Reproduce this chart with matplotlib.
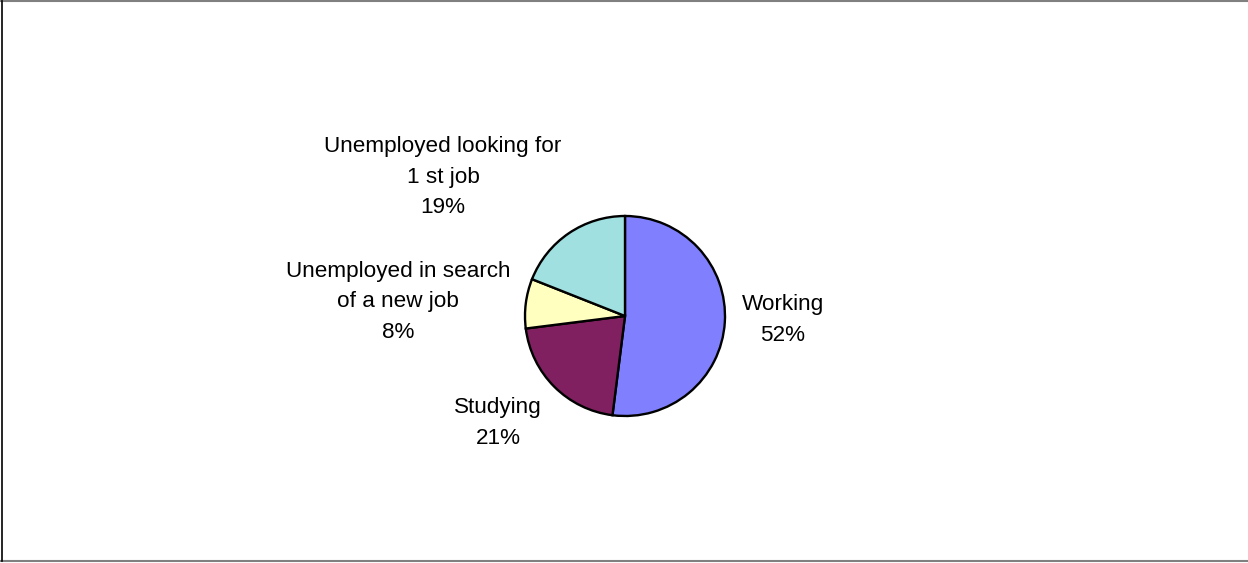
"""Pie chart of respondents' current activity status."""

import matplotlib

matplotlib.use("Agg")

import matplotlib.pyplot as plt
from matplotlib.lines import Line2D

labels = [
    "Working",
    "Studying",
    "Unemployed in search\nof a new job",
    "Unemployed looking for\n1 st job",
]
shares = [52, 21, 8, 19]
colors = ["#8080FF", "#802060", "#FFFFC0", "#A0E0E0"]

# label anchors in pie-radius units (centre of each text block)
label_pos = [(1.58, -0.04), (-1.27, -1.07), (-2.27, 0.14), (-1.82, 1.39)]

plt.rcParams["font.family"] = ["Liberation Sans", "DejaVu Sans"]

fig = plt.figure(figsize=(12.48, 5.63), dpi=100)
ax = fig.add_axes([0, 0, 1, 1])

ax.pie(
    shares,
    colors=colors,
    startangle=90,
    counterclock=False,
    radius=1.0,
    wedgeprops={"edgecolor": "black", "linewidth": 1.7},
    frame=True,
)
ax.set_xlim(-6.25, 6.23)
ax.set_ylim(-2.47, 3.16)
ax.set_aspect("auto")
ax.axis("off")

for text, val, (x, y) in zip(labels, shares, label_pos, strict=True):
    ax.text(
        x,
        y,
        f"{text}\n{val}%",
        ha="center",
        va="center",
        fontsize=16.2,
        linespacing=1.62,
        color="black",
    )

# outer frame: grey top/bottom rules, black left edge
fig.add_artist(Line2D([0.0, 1.0], [0.998, 0.998], transform=fig.transFigure, color="#808080", lw=1.5))
fig.add_artist(Line2D([0.0, 1.0], [0.003, 0.003], transform=fig.transFigure, color="#808080", lw=1.5))
fig.add_artist(Line2D([0.0015, 0.0015], [0.003, 0.998], transform=fig.transFigure, color="black", lw=1.2))

fig.savefig("out.png", dpi=100)
